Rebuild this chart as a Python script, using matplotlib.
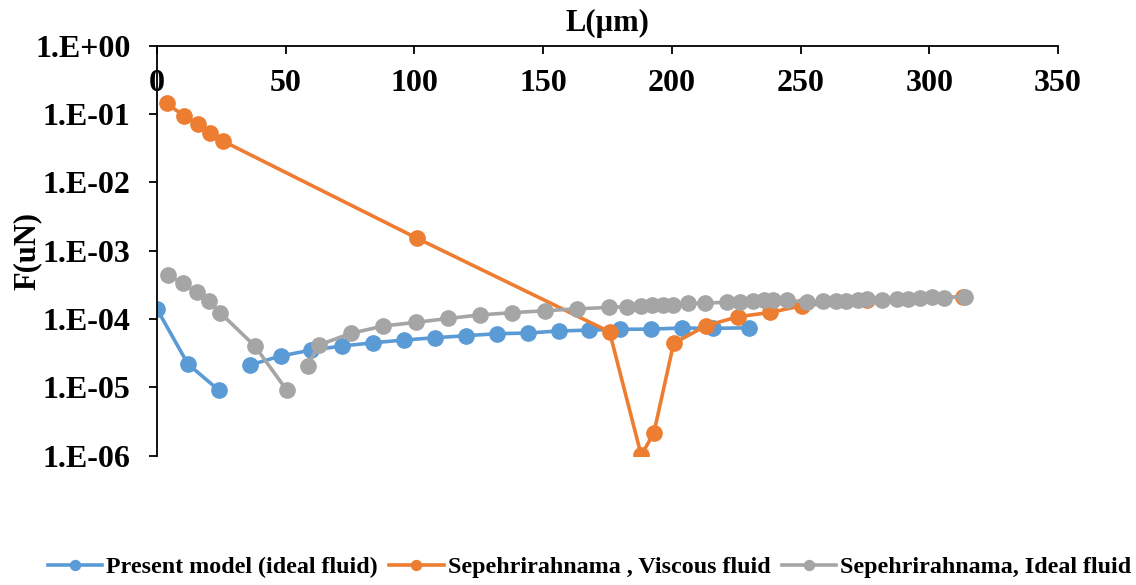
import matplotlib.pyplot as plt
from matplotlib.ticker import FixedLocator, FixedFormatter

# Present model (ideal fluid) - two separate pieces
blue_x1 = [0, 12, 24]
blue_y1 = [1.40e-4, 2.2e-5, 9.1e-6]
blue_x2 = [36, 48, 60, 72, 84, 96, 108, 120, 132, 144, 156, 168, 180, 192,
           204, 216, 230]
blue_y2 = [2.12e-5, 2.88e-5, 3.52e-5, 4.03e-5, 4.5e-5, 4.93e-5, 5.33e-5,
           5.7e-5, 6.1e-5, 6.24e-5, 6.68e-5, 6.9e-5, 7.07e-5, 7.13e-5,
           7.39e-5, 7.3e-5, 7.45e-5]

# Sepehrirahnama, viscous fluid
orange_x = [3.9, 10.4, 15.8, 20.4, 25.6, 100.9, 175.8, 188.1, 193, 200.7,
            213.3, 225.7, 238.3, 250.6, 275.8, 313.2]
orange_y = [0.1435, 0.0936, 0.0707, 0.0523, 0.0403, 1.53e-3, 6.5e-5, 1.02e-6,
            2.13e-6, 4.41e-5, 7.98e-5, 1.08e-4, 1.25e-4, 1.57e-4, 1.91e-4,
            2.11e-4]

# Sepehrirahnama, ideal fluid - two separate pieces
gray_x1 = [4.3, 10, 15.4, 20.1, 24.5, 38, 50.4]
gray_y1 = [4.41e-4, 3.33e-4, 2.46e-4, 1.84e-4, 1.24e-4, 4.03e-5, 9.1e-6]
gray_x2 = [58.5, 62.9, 75.4, 87.9, 100.6, 113.2, 125.6, 138, 150.6, 163,
           175.7, 182.4, 188.2, 192.3, 196.7, 200.6, 206.1, 212.9, 221.3,
           226.3, 231.4, 235.7, 239.2, 244.6, 252.4, 258.7, 263.7, 267.6,
           272.3, 276, 281.8, 287.3, 291.6, 296.3, 300.9, 305.9, 313.7]
gray_y2 = [2.07e-5, 4.17e-5, 6.18e-5, 7.9e-5, 8.95e-5, 1.02e-4, 1.15e-4,
           1.24e-4, 1.32e-4, 1.41e-4, 1.48e-4, 1.52e-4, 1.57e-4, 1.58e-4,
           1.59e-4, 1.6e-4, 1.69e-4, 1.7e-4, 1.77e-4, 1.8e-4, 1.84e-4,
           1.88e-4, 1.88e-4, 1.9e-4, 1.75e-4, 1.82e-4, 1.84e-4, 1.84e-4,
           1.87e-4, 1.96e-4, 1.93e-4, 1.96e-4, 1.96e-4, 2.0e-4, 2.12e-4,
           2.05e-4, 2.13e-4]

x_ticks = [0, 50, 100, 150, 200, 250, 300, 350]
y_ticks = [1e-6, 1e-5, 1e-4, 1e-3, 1e-2, 1e-1, 1e0]
y_tick_labels = ["1.E-06", "1.E-05", "1.E-04", "1.E-03", "1.E-02", "1.E-01", "1.E+00"]

plt.rcParams["font.family"] = ["Liberation Serif", "DejaVu Serif"]
plt.rcParams["font.weight"] = "bold"

blue = "#5B9BD5"
orange = "#ED7D31"
gray = "#A5A5A5"
style = dict(lw=2.6, marker="o", markersize=11)

fig = plt.figure(figsize=(11.36, 5.85), dpi=100)
ax = fig.add_axes([0.1382, 0.221, 0.7931, 0.7009])

ax.plot(blue_x1, blue_y1, color=blue, label="Present model (ideal fluid)", **style)
ax.plot(blue_x2, blue_y2, color=blue, **style)
ax.plot(orange_x, orange_y, color=orange, label="Sepehrirahnama , Viscous fluid", **style)
ax.plot(gray_x1, gray_y1, color=gray, label="Sepehrirahnama, Ideal fluid", **style)
ax.plot(gray_x2, gray_y2, color=gray, **style)

ax.set_yscale("log")
ax.set_xlim(0, 350)
ax.set_ylim(1e-6, 1)
ax.yaxis.set_major_locator(FixedLocator(y_ticks))
ax.yaxis.set_major_formatter(FixedFormatter(y_tick_labels))
ax.yaxis.set_minor_locator(FixedLocator([]))
ax.set_xticks(x_ticks)

for s in ["right", "bottom"]:
    ax.spines[s].set_visible(False)
ax.spines["top"].set_linewidth(1.3)
ax.spines["left"].set_linewidth(1.3)

ax.tick_params(axis="x", top=True, labeltop=True, bottom=False, labelbottom=False,
               direction="in", length=6, width=1.3, pad=-38, labelsize=23)
ax.tick_params(axis="y", direction="out", length=6, width=1.3, pad=13, labelsize=23)

ax.xaxis.set_label_position("top")
ax.set_xlabel("L(µm)", fontsize=22, fontweight="bold")
ax.xaxis.set_label_coords(0.5, 1.037)
ax.set_ylabel("F(uN)", fontsize=22, fontweight="bold")
ax.yaxis.set_label_coords(-0.128, 0.5)

fig.legend(loc="center", bbox_to_anchor=(0.519, 0.03), ncol=3, frameon=False,
           fontsize=17.3, handlelength=2.25, columnspacing=0.5, handletextpad=0.17,
           markerscale=0.65)

fig.savefig("out.png", dpi=100)
